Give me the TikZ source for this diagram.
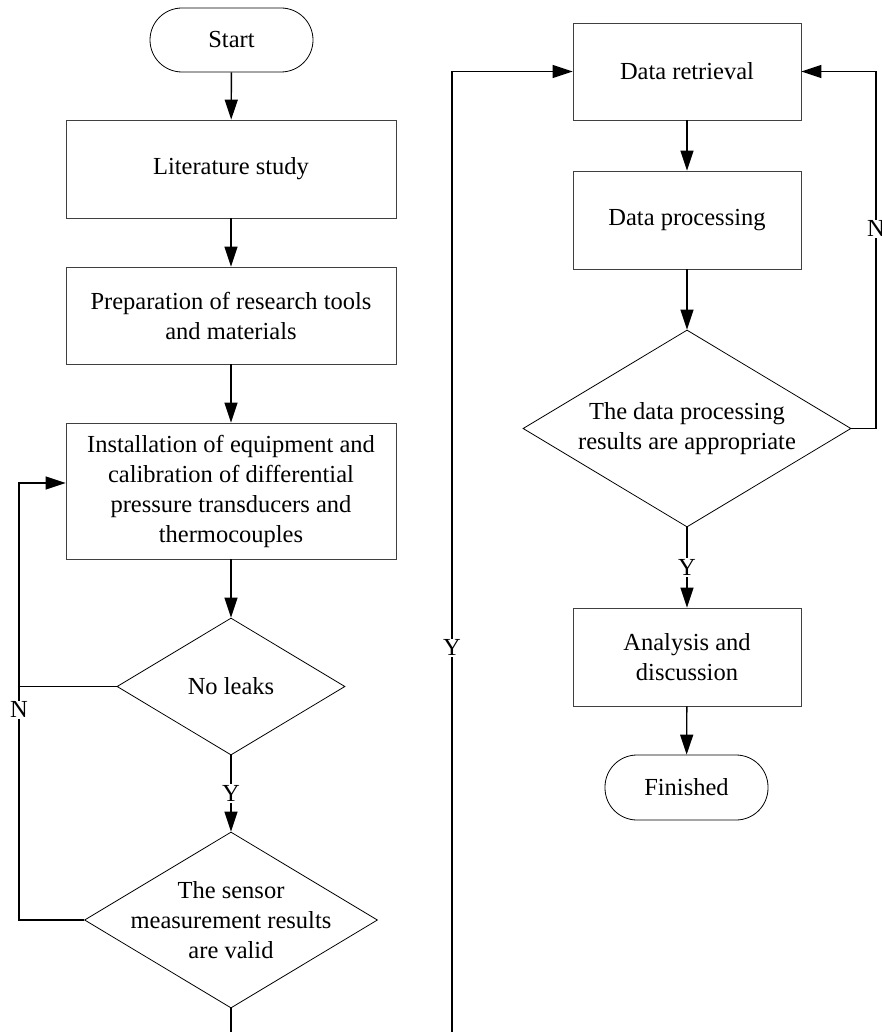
\documentclass[tikz,border=0pt]{standalone}
\usepackage{fontspec}
\setmainfont{Liberation Serif}
\usetikzlibrary{arrows.meta,shapes.geometric,positioning}
\tikzstyle{arrow} = [line width=1.4pt,-{Triangle[length=20pt,width=13pt]}]
\tikzstyle{line} = [line width=1.4pt]
\tikzstyle{process} = [rectangle, draw=black!75, line width=0.8pt, align=center, inner sep=0pt]
\tikzstyle{terminal} = [rectangle, draw, rounded corners=32pt, minimum width=163pt, minimum height=64pt, line width=0.8pt]
\tikzstyle{decision} = [diamond, draw, line width=0.8pt, inner sep=0pt]
\tikzstyle{yn} = [fill=white, inner sep=1pt]

\begin{document}
\begin{tikzpicture}[x=1pt, y=-1pt, every node/.style={font=\fontsize{24.5}{30}\selectfont}]
\useasboundingbox (0,0) rectangle (881,1032);
% left column
\node[terminal] (start) at (231.5,40) {Start};
\node[process, minimum width=330pt, minimum height=98pt] (lit) at (231,169) {Literature study};
\node[process, minimum width=330pt, minimum height=97pt] (prep) at (231,315.5) {Preparation of research tools\\and materials};
\node[process, minimum width=330pt, minimum height=136pt] (inst) at (231,491) {Installation of equipment and\\calibration of differential\\pressure transducers and\\thermocouples};
\node[decision, minimum width=228pt, minimum height=137pt, label={center:No leaks}] (leak) at (231,686.5) {};
\node[decision, minimum width=293pt, minimum height=176pt, label={[align=center]center:{The sensor\\measurement results\\are valid}}] (valid) at (231,920) {};
% right column
\node[process, minimum width=228pt, minimum height=97pt] (retr) at (687,71.5) {Data retrieval};
\node[process, minimum width=228pt, minimum height=98pt] (proc) at (687,220) {Data processing};
\node[decision, minimum width=328pt, minimum height=197pt, label={[align=center]center:{The data processing\\results are appropriate}}] (ok) at (687,428.5) {};
\node[process, minimum width=228pt, minimum height=98pt] (anal) at (687,657) {Analysis and\\discussion};
\node[terminal, minimum height=65pt] (fin) at (686.5,787.5) {Finished};
\coordinate (nloop) at (19,483);
\coordinate (b1) at (231,1032);
\coordinate (b2) at (452,1032);

\draw[arrow] (start) -- (lit);
\draw[arrow] (lit) -- (prep);
\draw[arrow] (prep) -- (inst);
\draw[arrow] (inst) -- (leak);
\draw[arrow] (leak.south) -- node[yn] {Y} (valid.north);
\draw[arrow] (leak.west) -| (nloop) -- (nloop -| inst.west);
\draw[line] (valid.west) -| node[yn, pos=0.95] {N} (19,686.5);
\draw[line] (valid.south) -- (b1);
\draw[arrow] (b2) |- node[yn, pos=0.2] {Y} (retr.west);
\draw[arrow] (retr) -- (proc);
\draw[arrow] (proc) -- (ok);
\draw[arrow] (ok.east) -| node[yn, pos=0.78] {N} (876,71.5) -- (retr.east);
\draw[arrow] (ok.south) -- node[yn] {Y} (anal.north);
\draw[arrow] (anal) -- (fin);
\end{tikzpicture}
\end{document}
